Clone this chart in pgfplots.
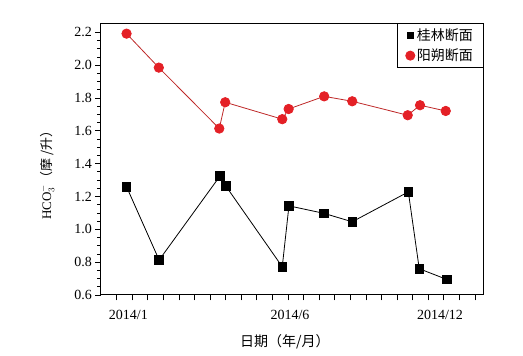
\documentclass[border=0pt]{standalone}
\usepackage{fontspec}
\setmainfont{Liberation Serif}
\newfontfamily\cjk{Noto Sans CJK SC}
\usepackage{pgfplots}
\pgfplotsset{compat=1.18}
\definecolor{myred}{RGB}{228,32,38}
\definecolor{linered}{RGB}{190,40,40}
\begin{document}
\begin{tikzpicture}[x=1pt,y=1pt]
\useasboundingbox (0,0) rectangle (523,356);
\begin{axis}[
  at={(101pt,61pt)}, anchor=south west, scale only axis,
  width=382.3pt, height=271.7pt,
  xmin=0, xmax=24.53, ymin=0.6, ymax=2.255,
  xtick={1,...,24}, xticklabels={},
  extra x ticks={1.76,12.13,21.75},
  extra x tick labels={2014/1,2014/6,2014/12},
  extra x tick style={major tick length=0pt, tick label style={yshift=-12pt}},
  ytick={0.6,0.8,1.0,1.2,1.4,1.6,1.8,2.0,2.2},
  minor y tick num=3,
  tick align=outside, tick pos=left,
  major tick length=5.5pt, minor tick length=3.5pt,
  y tick label style={/pgf/number format/.cd, fixed, fixed zerofill, precision=1},
  /pgf/number format/assume math mode=true,
  tick label style={font=\fontsize{14}{16}\selectfont},
  axis line style={line width=1pt},
  every tick/.style={black, line width=0.8pt},
  xlabel={\cjk 日期（年/月）},
  xlabel style={at={(axis description cs:0.481,-0.172)}, anchor=center, font=\fontsize{14}{16}\selectfont},
  ylabel={HCO$_3^-$\cjk（摩 /升）},
  ylabel style={at={(axis description cs:-0.141,0.453)}, anchor=center, rotate=0, font=\fontsize{13}{15}\selectfont},
  legend style={at={(rel axis cs:1,1)}, anchor=north east, draw=black, line width=0.8pt,
    font=\fontsize{14}{16}\selectfont, inner xsep=8pt, inner ysep=3pt, row sep=3pt},
  legend cell align=left,
]
\addlegendimage{only marks, mark=square*, mark size=3.4pt, black}
\addlegendentry{\cjk 桂林断面}
\addlegendimage{only marks, mark=*, mark size=4.6pt, myred}
\addlegendentry{\cjk 阳朔断面}

\addplot[black, line width=0.8pt, mark=square*, mark size=4.3pt, mark options={solid, fill=black}, forget plot] coordinates {
(1.64,1.259) (3.73,0.813) (7.63,1.324) (8.00,1.265) (11.63,0.772) (12.06,1.143)
(14.32,1.097) (16.12,1.046) (19.72,1.228) (20.42,0.760) (22.18,0.695)
};
\addplot[linered, line width=0.8pt, mark=*, mark size=4.7pt, mark options={solid, draw=myred, fill=myred}, forget plot] coordinates {
(1.64,2.192) (3.71,1.985) (7.59,1.614) (7.97,1.774) (11.63,1.671) (12.04,1.733)
(14.32,1.810) (16.12,1.780) (19.68,1.695) (20.47,1.756) (22.12,1.721)
};
\end{axis}
\end{tikzpicture}
\end{document}
